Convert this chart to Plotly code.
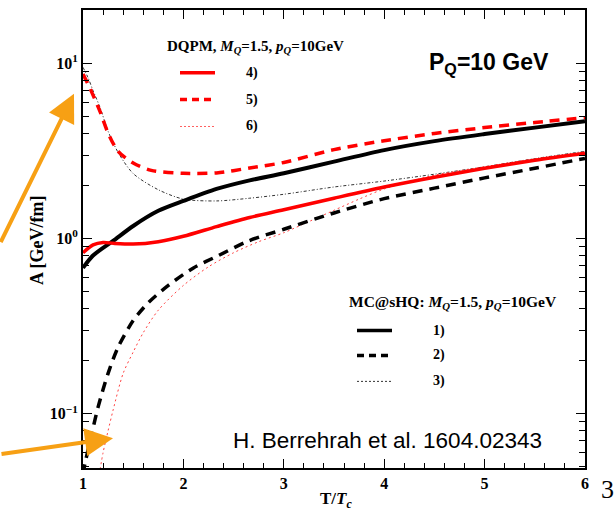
import plotly.graph_objects as go

# ---- data (T/Tc, A in GeV/fm) ----
T_mc_solid = [1.0, 1.1, 1.3, 1.5, 1.75, 2.0, 2.33, 2.66, 3.0, 3.5, 4.0, 4.5, 5.0, 5.5, 6.0]
A_mc_solid = [0.68, 0.80, 0.97, 1.18, 1.44, 1.64, 1.92, 2.15, 2.36, 2.75, 3.2, 3.6, 3.95, 4.3, 4.67]

T_mc_dash = [1.0, 1.02, 1.09, 1.15, 1.25, 1.35, 1.5, 1.65, 1.85, 2.1, 2.35, 2.65, 3.0, 3.5, 4.0, 4.5, 5.0, 5.5, 6.0]
A_mc_dash = [0.045, 0.052, 0.078, 0.109, 0.17, 0.24, 0.34, 0.43, 0.54, 0.68, 0.80, 0.97, 1.13, 1.4, 1.69, 1.94, 2.22, 2.52, 2.87]

T_mc_dot = [1.0, 1.05, 1.1, 1.17, 1.25, 1.35, 1.5, 1.75, 2.0, 2.33, 2.66, 3.0, 3.5, 4.0, 4.5, 5.0, 5.5, 6.0]
A_mc_dot = [9.5, 8.3, 7.0, 5.6, 4.1, 3.1, 2.35, 1.9, 1.68, 1.64, 1.70, 1.79, 1.97, 2.13, 2.33, 2.57, 2.86, 3.15]

T_dq_solid = [1.0, 1.1, 1.2, 1.3, 1.5, 1.75, 2.0, 2.33, 2.66, 3.0, 3.5, 4.0, 4.5, 5.0, 5.5, 6.0]
A_dq_solid = [0.83, 0.92, 0.95, 0.94, 0.93, 0.96, 1.03, 1.17, 1.32, 1.46, 1.70, 1.97, 2.24, 2.52, 2.80, 3.07]

T_dq_dash = [1.0, 1.07, 1.17, 1.25, 1.35, 1.5, 1.68, 2.0, 2.33, 2.66, 3.0, 3.5, 4.0, 4.5, 5.0, 5.5, 6.0]
A_dq_dash = [8.7, 7.2, 5.3, 4.0, 3.15, 2.7, 2.45, 2.36, 2.37, 2.53, 2.72, 3.22, 3.62, 3.98, 4.3, 4.6, 4.9]

T_dq_dot = [1.17, 1.2, 1.25, 1.3, 1.4, 1.5, 1.6, 1.75, 2.0, 2.25, 2.5, 2.75, 3.0, 3.25, 3.5, 3.75, 4.0, 4.5, 5.0, 5.5, 6.0]
A_dq_dot = [0.048, 0.06, 0.08, 0.105, 0.17, 0.225, 0.29, 0.39, 0.54, 0.69, 0.83, 0.96, 1.08, 1.25, 1.45, 1.68, 1.92, 2.3, 2.57, 2.85, 3.1]

x_ticks = [1, 2, 3, 4, 5, 6]
y_ticks = [0.1, 1, 10]
y_tick_text = ["<b>10<sup>\u22121</sup></b>", "<b>10<sup>0</sup></b>", "<b>10<sup>1</sup></b>"]
y_minor = [0.05, 0.06, 0.07, 0.08, 0.09, 0.2, 0.3, 0.4, 0.5, 0.6, 0.7, 0.8, 0.9,
           2, 3, 4, 5, 6, 7, 8, 9, 20]

RED = "#FF0000"
BLACK = "#000000"
ORANGE = "#F7A014"
SERIF = "Liberation Serif"
SANS = "Liberation Sans"

fig = go.Figure()

def add(xs, ys, color, width, dash):
    fig.add_trace(go.Scatter(x=xs, y=ys, mode="lines",
                             line=dict(color=color, width=width, dash=dash, shape="spline", smoothing=0.8),
                             showlegend=False, hoverinfo="skip"))

add(T_mc_dot, A_mc_dot, "#333333", 1, "3px,2px,1px,2px")
add(T_dq_dot, A_dq_dot, "#FF4040", 1, "2px,3px")
add(T_mc_dash, A_mc_dash, BLACK, 3.5, "10px,7px")
add(T_dq_dash, A_dq_dash, RED, 3.5, "10px,7px")
add(T_mc_solid, A_mc_solid, BLACK, 4, "solid")
add(T_dq_solid, A_dq_solid, RED, 3.5, "solid")

L, R, TOP, BOT = 83, 585, 8, 468
W = R - L
H = BOT - TOP

def px(xp):
    return (xp - L) / W

def py(yp):
    return (BOT - yp) / H

ann = []
shapes = []

def text(x, y, s, size, font=SERIF, xanchor="left", color="black", textangle=0):
    ann.append(dict(x=px(x), y=py(y), xref="paper", yref="paper", text=s, showarrow=False,
                    xanchor=xanchor, yanchor="middle", textangle=textangle,
                    font=dict(family=font, size=size, color=color)))

def sample(x0, x1, y, color, width, dash):
    shapes.append(dict(type="line", xref="paper", yref="paper", x0=px(x0), x1=px(x1), y0=py(y), y1=py(y),
                       line=dict(color=color, width=width, dash=dash)))

# DQPM legend
text(165, 45, "<b>DQPM, <i>M<sub>Q</sub></i>=1.5, <i>p<sub>Q</sub></i>=10GeV</b>", 15)
sample(180, 215, 71, RED, 3.5, "solid")
sample(180, 215, 98, RED, 3.5, "7px,5px")
sample(180, 215, 125, "#FF6060", 1, "2px,2px")
text(244, 71, "<b>4)</b>", 14)
text(244, 98, "<b>5)</b>", 14)
text(244, 125, "<b>6)</b>", 14)

# MC@sHQ legend
text(347, 302, "<b>MC@sHQ: <i>M<sub>Q</sub></i>=1.5, <i>p<sub>Q</sub></i>=10GeV</b>", 15.5)
sample(357, 392, 330, BLACK, 3.5, "solid")
sample(357, 392, 355, BLACK, 3.5, "7px,5px")
sample(357, 392, 381, "#333333", 1, "2px,2px")
text(431, 330, "<b>1)</b>", 14)
text(431, 355, "<b>2)</b>", 14)
text(431, 381, "<b>3)</b>", 14)

# big labels
text(427, 62, "<b>P<sub>Q</sub>=10 GeV</b>", 23, font=SANS)
text(231, 440, "H. Berrehrah et al. 1604.02343", 22.5, font=SANS)

# axis titles
text(37, 240, "<b>A [GeV/fm]</b>", 18, xanchor="center", textangle=-90)
text(336, 500, "<b>T/<i>T<sub>c</sub></i></b>", 17, xanchor="center")
text(599, 490, "3", 26, font=SERIF)

# orange arrows
ann.append(dict(x=px(74), y=py(92), xref="paper", yref="paper", ax=-84, ay=150, text="", showarrow=True,
                arrowhead=2, arrowsize=1.4, arrowwidth=4, arrowcolor=ORANGE, standoff=0))
ann.append(dict(x=px(113), y=py(438), xref="paper", yref="paper", ax=-125, ay=16, text="", showarrow=True,
                arrowhead=2, arrowsize=1.4, arrowwidth=4, arrowcolor=ORANGE, standoff=0))

fig.update_layout(
    width=615, height=512,
    margin=dict(l=L, r=615 - R, t=TOP, b=512 - BOT),
    paper_bgcolor="white", plot_bgcolor="white",
    annotations=ann, shapes=shapes,
    xaxis=dict(range=[1, 6], tickvals=x_ticks, ticktext=["<b>%d</b>" % v for v in x_ticks],
               ticks="inside", ticklen=9, tickwidth=1.3, tickcolor="black",
               minor=dict(dtick=0.2, ticks="inside", ticklen=5, tickwidth=1.2, tickcolor="black"),
               showline=True, linecolor="black", linewidth=2, mirror="ticks",
               showgrid=False, zeroline=False,
               tickfont=dict(family=SERIF, size=16, color="black")),
    yaxis=dict(type="log", range=[-1.31, 1.305], tickvals=y_ticks, ticktext=y_tick_text,
               ticks="inside", ticklen=9, tickwidth=1.3, tickcolor="black",
               minor=dict(tickmode="array", tickvals=y_minor, ticks="inside", ticklen=6, tickwidth=1.2,
                          tickcolor="black", showgrid=False),
               showline=True, linecolor="black", linewidth=2, mirror="ticks",
               showgrid=False, zeroline=False,
               tickfont=dict(family=SERIF, size=16, color="black")),
)

fig.write_html("out.html", config={"displayModeBar": False},
               post_script="document.body.style.margin='0';")
